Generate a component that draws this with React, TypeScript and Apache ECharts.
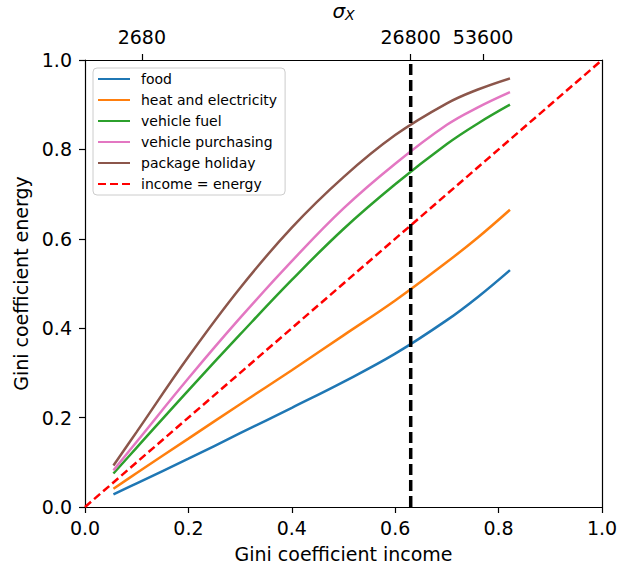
import React, { useEffect, useRef } from "react";
import * as echarts from "echarts";

const incomeGini = [0.055, 0.1, 0.2, 0.3, 0.4, 0.5, 0.6, 0.7, 0.76, 0.822];
const food = [0.028, 0.053, 0.108, 0.165, 0.222, 0.28, 0.343, 0.418, 0.47, 0.53];
const heatElectricity = [0.041, 0.076, 0.153, 0.23, 0.306, 0.384, 0.462, 0.548, 0.603, 0.665];
const vehicleFuel = [0.075, 0.133, 0.261, 0.386, 0.508, 0.622, 0.722, 0.812, 0.858, 0.9];
const vehiclePurchasing = [0.082, 0.146, 0.288, 0.423, 0.55, 0.668, 0.768, 0.855, 0.894, 0.928];
const packageHoliday = [0.093, 0.168, 0.336, 0.49, 0.625, 0.738, 0.832, 0.903, 0.934, 0.959];
const diagonal = [0, 1];
const sigmaLineX = 0.63;
const topTickPositions = [0.11, 0.63, 0.77];
const topTickLabels = ["2680", "26800", "53600"];

const seriesNames = [
  "food",
  "heat and electricity",
  "vehicle fuel",
  "vehicle purchasing",
  "package holiday",
];
const seriesValues = [food, heatElectricity, vehicleFuel, vehiclePurchasing, packageHoliday];
const seriesColors = ["#1f77b4", "#ff7f0e", "#2ca02c", "#e377c2", "#8c564b"];

const FONT = "DejaVu Sans";

export default function App() {
  const ref = useRef<HTMLDivElement>(null);
  useEffect(() => {
    if (!ref.current) return;
    const chart = echarts.init(ref.current, undefined, { renderer: "svg" });
    const lineSeries = seriesNames.map((name, i) => ({
      name,
      type: "line",
      xAxisIndex: 0,
      yAxisIndex: 0,
      data: incomeGini.map((x, j) => [x, seriesValues[i][j]]),
      smooth: 0.4,
      symbol: "none",
      lineStyle: { color: seriesColors[i], width: 2.5 },
      itemStyle: { color: seriesColors[i] },
      z: 3,
    }));
    const tickLabelStyle = { fontFamily: FONT, fontSize: 19, color: "#000" };
    chart.setOption({
      animation: false,
      textStyle: { fontFamily: FONT },
      grid: {
        left: 85,
        right: 16,
        top: 60,
        bottom: 63,
        containLabel: false,
        outerBoundsMode: "none",
      },
      legend: {
        data: [...seriesNames, "income = energy"],
        orient: "vertical",
        left: 93,
        top: 68,
        padding: [4, 8, 4, 4],
        itemWidth: 32,
        itemHeight: 14,
        itemGap: 7,
        itemStyle: { opacity: 0 },
        backgroundColor: "rgba(255,255,255,0.8)",
        borderColor: "#cccccc",
        borderWidth: 1,
        borderRadius: 4,
        textStyle: { fontFamily: FONT, fontSize: 14, color: "#000", padding: [0, 0, 0, 6] },
      },
      xAxis: [
        {
          type: "value",
          position: "bottom",
          min: 0,
          max: 1,
          interval: 0.2,
          name: "Gini coefficient income",
          nameLocation: "middle",
          nameGap: 37,
          nameTextStyle: { fontFamily: FONT, fontSize: 19, color: "#000" },
          axisLine: { show: true, onZero: false, lineStyle: { color: "#000", width: 1.2 } },
          axisTick: { show: true, length: 6, lineStyle: { color: "#000", width: 1.2 } },
          axisLabel: { ...tickLabelStyle, margin: 11, formatter: (v: number) => v.toFixed(1) },
          splitLine: { show: false },
        },
        {
          type: "value",
          position: "top",
          min: 0,
          max: 1,
          name: "{s|σ}{sub|X}",
          nameLocation: "middle",
          nameGap: 28,
          nameTextStyle: {
            rich: {
              s: { fontFamily: FONT, fontSize: 20, fontStyle: "italic", color: "#000" },
              sub: {
                fontFamily: FONT,
                fontSize: 14,
                fontStyle: "italic",
                color: "#000",
                verticalAlign: "bottom",
                padding: [8, 0, 0, 0],
              },
            },
          },
          axisLine: { show: true, onZero: false, lineStyle: { color: "#000", width: 1.2 } },
          axisTick: {
            show: true,
            length: 6,
            customValues: topTickPositions,
            lineStyle: { color: "#000", width: 1.2 },
          },
          axisLabel: {
            ...tickLabelStyle,
            margin: 14,
            customValues: topTickPositions,
            formatter: (v: number) => {
              let best = 0;
              topTickPositions.forEach((p, i) => {
                if (Math.abs(p - v) < Math.abs(topTickPositions[best] - v)) best = i;
              });
              return topTickLabels[best];
            },
          },
          splitLine: { show: false },
        },
      ],
      yAxis: [
        {
          type: "value",
          position: "left",
          min: 0,
          max: 1,
          interval: 0.2,
          name: "Gini coefficient energy",
          nameLocation: "middle",
          nameGap: 53,
          nameTextStyle: { fontFamily: FONT, fontSize: 19, color: "#000" },
          axisLine: { show: true, onZero: false, lineStyle: { color: "#000", width: 1.2 } },
          axisTick: { show: true, length: 6, lineStyle: { color: "#000", width: 1.2 } },
          axisLabel: { ...tickLabelStyle, margin: 13, formatter: (v: number) => v.toFixed(1) },
          splitLine: { show: false },
        },
        {
          type: "value",
          position: "right",
          min: 0,
          max: 1,
          axisLine: { show: true, onZero: false, lineStyle: { color: "#000", width: 1.2 } },
          axisTick: { show: false },
          axisLabel: { show: false },
          splitLine: { show: false },
        },
      ],
      series: [
        ...lineSeries,
        {
          name: "income = energy",
          type: "line",
          data: diagonal.map((v) => [v, v]),
          symbol: "none",
          lineStyle: { color: "#ff0000", width: 2.5, type: [8, 4] },
          itemStyle: { color: "#ff0000" },
          z: 4,
        },
        {
          name: "sigma",
          type: "line",
          data: [
            [sigmaLineX, 0],
            [sigmaLineX, 1],
          ],
          symbol: "none",
          lineStyle: { color: "#000", width: 3.5, type: [11, 5] },
          itemStyle: { color: "#000" },
          z: 5,
        },
      ],
    });
    return () => chart.dispose();
  }, []);
  return (
    <div
      ref={ref}
      style={{ position: "fixed", left: 0, top: 0, width: 618, height: 570, background: "#fff" }}
    />
  );
}
